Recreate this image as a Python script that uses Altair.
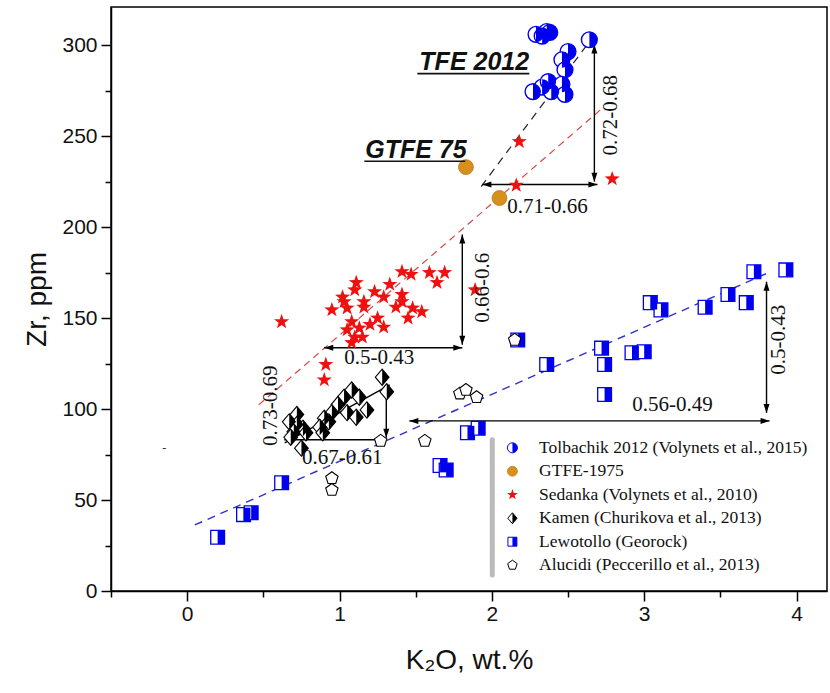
import altair as alt
import pandas as pd

# ---------------- data ----------------
tol_k2o = [2.29, 2.36, 2.38, 2.33, 2.50, 2.46, 2.48, 2.27, 2.33, 2.37, 2.39, 2.46, 2.48, 2.64]
tol_zr = [306, 307.5, 307, 305, 296.5, 292, 286.5, 274.5, 277, 280, 274.5, 278.5, 273, 303]

gtfe_k2o = [1.83, 2.05]
gtfe_zr = [233, 216]

sed_k2o = [1.41, 1.47, 1.59, 1.69, 1.64, 1.11, 1.10, 1.23, 1.33, 1.41, 1.29, 1.02, 1.03, 0.95,
           1.05, 1.16, 1.16, 1.37, 1.41, 1.48, 1.54, 1.45, 1.25, 1.20, 1.29, 1.08, 1.05, 1.13,
           1.10, 1.15, 1.08, 1.89, 0.91, 0.90, 0.62, 2.18, 2.16, 2.79]
sed_zr = [175.5, 174, 175, 175, 169.5, 169.5, 165.5, 164.5, 168.5, 163, 161.5, 161.5, 159, 154.5,
          155.5, 159, 156, 156, 159, 155.5, 153.5, 150, 150, 146.5, 145, 148, 143.5, 144.5,
          139.5, 139.5, 136.5, 165.5, 124.5, 116, 148, 247, 223, 226.5]

kam_k2o = [1.28, 1.31, 1.08, 1.03, 1.13, 0.99, 1.05, 1.11, 1.18, 0.95, 0.90, 0.93, 0.87, 0.89,
           0.72, 0.67, 0.72, 0.70, 0.68, 0.76, 0.78, 0.75]
kam_zr = [117.5, 109.5, 110.5, 106.5, 106.5, 102.5, 98, 95.5, 99.5, 98, 95, 93, 90, 87,
          97, 93, 91.5, 87.5, 84.5, 89.5, 87, 78.5]

lew_k2o = [0.20, 0.37, 0.42, 0.62, 1.66, 1.70, 1.84, 1.91, 2.17, 2.36, 2.72, 2.74, 2.74, 2.92,
           3.00, 3.04, 3.11, 3.40, 3.55, 3.67, 3.72, 3.93]
lew_zr = [29.5, 42, 43, 59.5, 69, 66.5, 87, 89.5, 138, 124.5, 133.5, 124.5, 108, 131,
          131.5, 158.5, 154.5, 156, 163, 158.5, 175.5, 176.5]

alu_k2o = [2.15, 1.79, 1.83, 1.90, 1.56, 1.27, 0.95, 0.95]
alu_zr = [138, 108.5, 110.5, 106.5, 82.5, 82.5, 62, 55.5]

# trend lines (two end points each)
tfe_line_k2o, tfe_line_zr = [1.93, 2.69], [222.3, 307.5]
sed_line_k2o, sed_line_zr = [0.47, 2.73], [102.3, 265.7]
kam_line_k2o, kam_line_zr = [0.64, 1.33], [81.4, 113.3]
lew_line_k2o, lew_line_zr = [0.05, 3.80], [36.3, 174.4]

# arrows: x1, y1, x2, y2, head at start, head at end
arrow_x1 = [2.673, 1.938, 1.806, 0.900, 1.307, 0.637, 3.803, 1.458]
arrow_y1 = [300.4, 223.4, 195.9, 133.7, 113.0, 83.1, 170.0, 93.5]
arrow_x2 = [2.673, 2.693, 1.806, 1.806, 1.307, 1.307, 3.803, 3.823]
arrow_y2 = [225.0, 223.4, 135.3, 133.7, 84.2, 83.1, 97.9, 93.5]
arrow_h1 = [True, True, True, True, False, False, True, True]
arrow_h2 = [True, True, True, True, True, False, True, True]

# range labels
rot_labels = ["0.72-0.68", "0.66-0.6", "0.73-0.69", "0.5-0.43"]
rot_x = [2.785, 1.944, 0.552, 3.888]
rot_y = [261.5, 166.7, 101.8, 138.1]
flat_labels = ["0.71-0.66", "0.5-0.43", "0.67-0.61", "0.56-0.49"]
flat_x = [2.365, 1.261, 1.018, 3.186]
flat_y = [211.3, 128.2, 73.2, 102.3]

big_labels = ["TFE 2012", "GTFE 75"]
big_x = [1.524, 1.169]
big_y = [286.3, 237.9]
under_x1 = [1.511, 1.163]
under_x2 = [2.246, 1.826]
under_y = [284.4, 236.2]

legend_labels = ["Tolbachik 2012 (Volynets et al., 2015)", "GTFE-1975",
                 "Sedanka (Volynets et al., 2010)", "Kamen (Churikova et al., 2013)",
                 "Lewotollo (Georock)", "Alucidi (Peccerillo et al., 2013)"]

# ---------------- styling ----------------
BLUE = "#0000EE"
RED = "#F01010"
ORANGE = "#D8901C"

RHALF_CIRCLE = "M0,-1A1,1,0,0,1,0,1Z"
SQUARE = "M-1,-1L1,-1L1,1L-1,1Z"
RHALF_SQUARE = "M0,-1L1,-1L1,1L0,1Z"
DIAMOND = "M0,-1L0.85,0L0,1L-0.85,0Z"
RHALF_DIAMOND = "M0,-1L0.85,0L0,1Z"
STAR = ("M0,-1L0.235,-0.324L0.951,-0.309L0.380,0.124L0.588,0.809L0,0.4"
        "L-0.588,0.809L-0.380,0.124L-0.951,-0.309L-0.235,-0.324Z")
PENTAGON = "M0,-1L0.951,-0.309L0.588,0.809L-0.588,0.809L-0.951,-0.309Z"
HEAD_UP = "M0,0L-1,3L1,3Z"
HEAD_DOWN = "M0,0L-1,-3L1,-3Z"
HEAD_LEFT = "M0,0L3,-1L3,1Z"
HEAD_RIGHT = "M0,0L-3,-1L-3,1Z"

xscale = alt.Scale(domain=[-0.5, 4.2], nice=False, zero=False)
yscale = alt.Scale(domain=[0, 321], nice=False, zero=False)

xaxis = alt.Axis(values=[v / 2 for v in range(-1, 9)],
                 labelExpr="datum.value % 1 === 0 ? format(datum.value, 'd') : ''",
                 tickSize={"condition": {"test": "datum.value % 1 === 0", "value": 10}, "value": 6},
                 labelPadding=2, titlePadding=22, labelOverlap=False, grid=False)
yaxis = alt.Axis(values=list(range(0, 325, 25)),
                 labelExpr="datum.value % 50 === 0 ? format(datum.value, 'd') : ''",
                 tickSize={"condition": {"test": "datum.value % 50 === 0", "value": 10}, "value": 6},
                 labelPadding=4, titlePadding=10, labelOverlap=False, grid=False)

X = alt.X("x:Q", scale=xscale, axis=xaxis, title="K\u2082O, wt.%")
Y = alt.Y("y:Q", scale=yscale, axis=yaxis, title="Zr, ppm")
X2 = alt.X2("x2:Q")
Y2 = alt.Y2("y2:Q")


def df(xs, ys):
    return pd.DataFrame({"x": xs, "y": ys})


def pts(data, shape, size, fill, stroke=None, sw=0.0):
    kw = dict(shape=shape, size=size, filled=True, fill=fill, opacity=1, strokeWidth=sw)
    if stroke is not None:
        kw["stroke"] = stroke
    return alt.Chart(data).mark_point(**kw).encode(x=X, y=Y)


def line(xs, ys, color, dash, width=1.3):
    kw = dict(color=color, strokeWidth=width)
    if dash:
        kw["strokeDash"] = dash
    return alt.Chart(df(xs, ys)).mark_line(**kw).encode(x=X, y=Y)


layers = []

# trend lines
layers.append(line(lew_line_k2o, lew_line_zr, "#3030C8", [8, 6], 1.4))
layers.append(line(sed_line_k2o, sed_line_zr, "#D84848", [7, 5], 1.2))
layers.append(line(tfe_line_k2o, tfe_line_zr, "#222222", [8, 6], 1.2))
layers.append(line(kam_line_k2o, kam_line_zr, "#000000", None, 1.3))

# arrows
arr = pd.DataFrame({"x": arrow_x1, "y": arrow_y1, "x2": arrow_x2, "y2": arrow_y2,
                    "h1": arrow_h1, "h2": arrow_h2})
layers.append(alt.Chart(arr).mark_rule(color="black", strokeWidth=1.4).encode(x=X, y=Y, x2=X2, y2=Y2))

heads = {"up": [], "down": [], "left": [], "right": []}
for _, r in arr.iterrows():
    vertical = abs(r.x - r.x2) < 1e-9
    if vertical:
        start_is_top = r.y >= r.y2
        if r.h1:
            heads["up" if start_is_top else "down"].append((r.x, r.y))
        if r.h2:
            heads["down" if start_is_top else "up"].append((r.x2, r.y2))
    else:
        start_is_left = r.x <= r.x2
        if r.h1:
            heads["left" if start_is_left else "right"].append((r.x, r.y))
        if r.h2:
            heads["right" if start_is_left else "left"].append((r.x2, r.y2))
head_shape = {"up": HEAD_UP, "down": HEAD_DOWN, "left": HEAD_LEFT, "right": HEAD_RIGHT}
for k, v in heads.items():
    if v:
        layers.append(pts(df([p[0] for p in v], [p[1] for p in v]), head_shape[k], 36, "black"))

# data series
layers.append(pts(df(lew_k2o, lew_zr), SQUARE, 190, "white", BLUE, 1.3))
layers.append(pts(df(lew_k2o, lew_zr), RHALF_SQUARE, 190, BLUE))
layers.append(pts(df(kam_k2o, kam_zr), DIAMOND, 260, "white", "black", 1.1))
layers.append(pts(df(kam_k2o, kam_zr), RHALF_DIAMOND, 260, "black"))
layers.append(pts(df(alu_k2o, alu_zr), PENTAGON, 170, "white", "black", 1.1))
layers.append(pts(df(sed_k2o, sed_zr), STAR, 250, RED))
layers.append(pts(df(gtfe_k2o, gtfe_zr), "circle", 220, ORANGE, "#B87510", 0.8))
layers.append(pts(df(tol_k2o, tol_zr), "circle", 250, "white", BLUE, 1.4))
layers.append(pts(df(tol_k2o, tol_zr), RHALF_CIRCLE, 250, BLUE))

# labels
serif = "Liberation Serif"
layers.append(alt.Chart(pd.DataFrame({"x": rot_x, "y": rot_y, "t": rot_labels}))
              .mark_text(angle=270, font=serif, fontSize=21, color="#111111", align="center",
                         baseline="middle")
              .encode(x=X, y=Y, text="t:N"))
layers.append(alt.Chart(pd.DataFrame({"x": flat_x, "y": flat_y, "t": flat_labels}))
              .mark_text(font=serif, fontSize=21, color="#111111", align="center", baseline="middle")
              .encode(x=X, y=Y, text="t:N"))
layers.append(alt.Chart(pd.DataFrame({"x": big_x, "y": big_y, "t": big_labels}))
              .mark_text(font="Liberation Sans", fontSize=25, fontWeight="bold", fontStyle="italic",
                         color="#111111", align="left", baseline="alphabetic")
              .encode(x=X, y=Y, text="t:N"))
layers.append(alt.Chart(pd.DataFrame({"x": under_x1, "x2": under_x2, "y": under_y}))
              .mark_rule(color="#111111", strokeWidth=1.6)
              .encode(x=X, x2=X2, y=Y))
layers.append(alt.Chart(pd.DataFrame({"x": [-0.151], "y": [78.7], "t": ["-"]}))
              .mark_text(font=serif, fontSize=12, color="#333333")
              .encode(x=X, y=Y, text="t:N"))

# legend
leg_sym_x = 2.135
leg_txt_x = 2.31
leg_y = [78.7 - i * 12.9 for i in range(len(legend_labels))]
layers.append(alt.Chart(pd.DataFrame({"x": [2.003], "y": [83.1], "y2": [8.8]}))
              .mark_rule(color="#BBBBBB", strokeWidth=5, strokeCap="round")
              .encode(x=X, y=Y, y2=Y2))
ls = 100
layers.append(pts(df([leg_sym_x], [leg_y[0]]), "circle", ls, "white", BLUE, 1.0))
layers.append(pts(df([leg_sym_x], [leg_y[0]]), RHALF_CIRCLE, ls, BLUE))
layers.append(pts(df([leg_sym_x], [leg_y[1]]), "circle", ls, ORANGE, "#B87510", 0.6))
layers.append(pts(df([leg_sym_x], [leg_y[2]]), STAR, 130, RED))
layers.append(pts(df([leg_sym_x], [leg_y[3]]), DIAMOND, 120, "white", "black", 1.0))
layers.append(pts(df([leg_sym_x], [leg_y[3]]), RHALF_DIAMOND, 120, "black"))
layers.append(pts(df([leg_sym_x], [leg_y[4]]), SQUARE, 80, "white", BLUE, 1.0))
layers.append(pts(df([leg_sym_x], [leg_y[4]]), RHALF_SQUARE, 80, BLUE))
layers.append(pts(df([leg_sym_x], [leg_y[5]]), PENTAGON, 100, "white", "black", 1.0))
layers.append(alt.Chart(pd.DataFrame({"x": [leg_txt_x] * len(legend_labels), "y": leg_y,
                                      "t": legend_labels}))
              .mark_text(font=serif, fontSize=17.5, color="#111111", align="left", baseline="middle")
              .encode(x=X, y=Y, text="t:N"))

chart = (alt.layer(*layers)
         .properties(width=716, height=584, autosize="none",
                     padding={"left": 111, "top": 7, "right": 3, "bottom": 102})
         .configure_view(stroke="black", strokeWidth=1.5)
         .configure_axis(domainColor="black", domainWidth=1.5, tickColor="black", tickWidth=1.5,
                         labelFont="Liberation Sans", labelFontSize=21, labelColor="#111111",
                         titleFont="Liberation Sans", titleFontSize=28, titleFontWeight="normal",
                         titleColor="#111111"))

chart.save("out.html", embed_options={"renderer": "svg", "actions": False})
